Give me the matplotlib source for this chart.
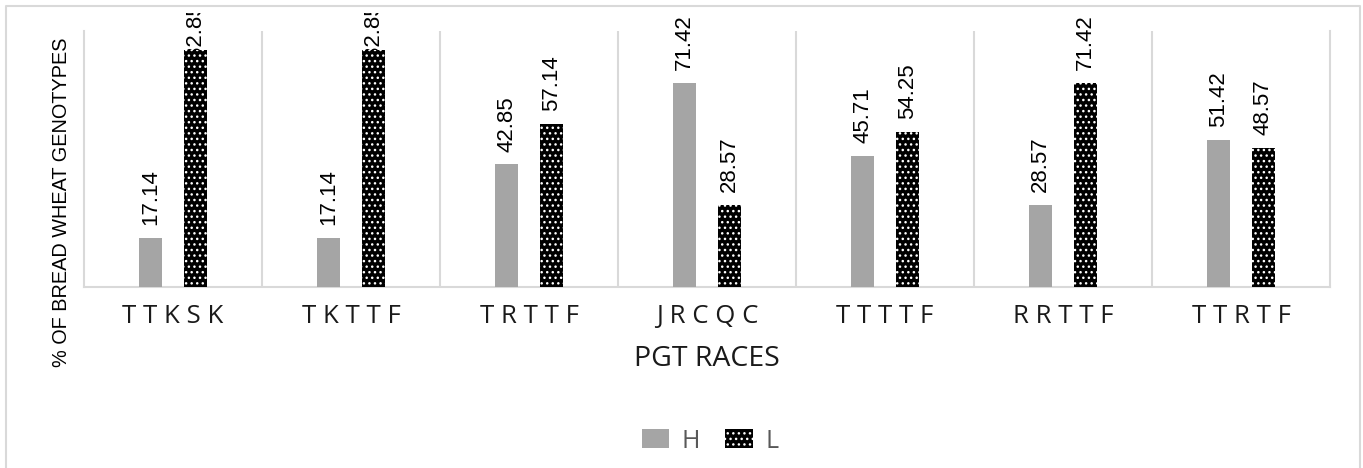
import matplotlib
matplotlib.use("Agg")
import matplotlib.pyplot as plt
import numpy as np
from matplotlib.patches import Patch
from matplotlib.transforms import Bbox, TransformedBbox

races = ["TTKSK", "TKTTF", "TRTTF", "JRCQC", "TTTTF", "RRTTF", "TTRTF"]
h_vals = [17.14, 17.14, 42.85, 71.42, 45.71, 28.57, 51.42]
l_vals = [82.85, 82.85, 57.14, 28.57, 54.25, 71.42, 48.57]

plt.rcParams["hatch.linewidth"] = 1.0
W, H = 1363, 468

fig = plt.figure(figsize=(W / 100, H / 100), dpi=100)
ax = fig.add_axes([84 / W, (H - 287) / H, (1330 - 84) / W, (287 - 31) / H])

x = np.arange(len(races))
w = 0.13
ax.bar(x - 0.126, h_vals, w, color="#a5a5a5", zorder=3)
ax.bar(x + 0.126, l_vals, w, color="black", edgecolor="white", hatch="...", linewidth=0, zorder=3)

# labels clipped to the chart area (just below the outer border), not to the plot box
clip = TransformedBbox(Bbox([[0, 0], [1, 1 - 13 / H]]), fig.transFigure)
for xi, hv, lv in zip(x, h_vals, l_vals):
    for off, v in ((-0.126, hv), (0.126, lv)):
        t = ax.text(xi + off, min(v + 4.5, 80), f"{v:.2f}", rotation=90, ha="center", va="bottom",
                    fontsize=16, family="Liberation Sans", zorder=2)
        t.set_clip_on(True)
        t.set_clip_box(clip)

ax.set_xlim(-0.5, len(races) - 0.5)
ax.set_ylim(0, 89.5)
ax.set_yticks([])
ax.set_xticks(x)
ax.set_xticklabels([" ".join(r) for r in races], fontsize=18.5, family="Open Sans", color="#1a1a1a")
ax.tick_params(axis="x", length=0, pad=12)
for b in np.arange(0.5, len(races) - 0.5):
    ax.axvline(b, color="#d9d9d9", lw=1.5, zorder=1)
ax.spines["top"].set_visible(False)
for s in ["left", "right", "bottom"]:
    ax.spines[s].set_color("#d9d9d9")
    ax.spines[s].set_linewidth(1.5)

ax.set_xlabel("PGT RACES", fontsize=20.5, family="Open Sans", color="#1a1a1a", labelpad=12)
fig.text(62 / W, 1 - 202 / H, "% OF BREAD WHEAT GENOTYPES", rotation=90,
         ha="center", va="center", fontsize=14.3, family="Liberation Sans")

handles = [Patch(facecolor="#a5a5a5", label="H"),
           Patch(facecolor="black", edgecolor="white", hatch="...", linewidth=0, label="L")]
fig.legend(handles=handles, loc="center", bbox_to_anchor=(710 / W, 1 - 441 / H), ncol=2,
           frameon=False, prop={"family": "Open Sans", "size": 18}, handlelength=1.1,
           handleheight=0.8, columnspacing=1.0, handletextpad=0.5, labelcolor="#595959")

# outer chart border (bottom edge runs off the image)
fig.add_artist(plt.Line2D([6 / W, 6 / W, 1360 / W, 1360 / W],
                          [0, 1 - 6 / H, 1 - 6 / H, 0], color="#d9d9d9", lw=1.5,
                          transform=fig.transFigure))

fig.savefig("out.png", dpi=100)
